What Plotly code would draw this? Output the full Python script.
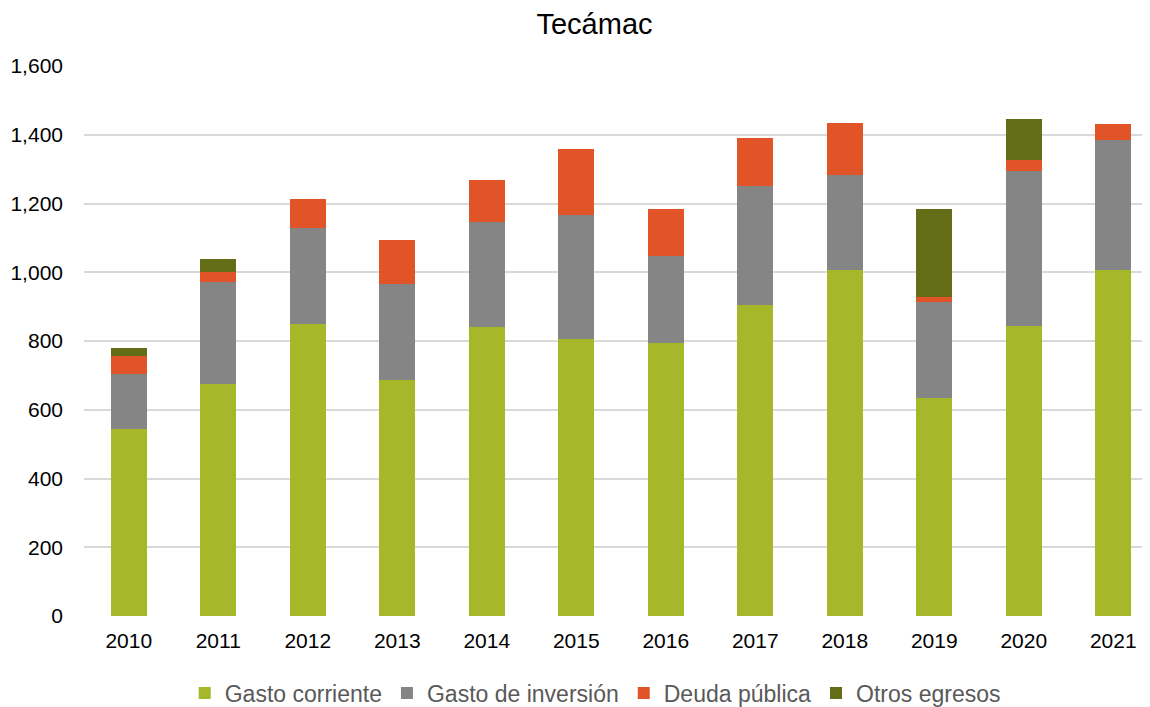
import plotly.graph_objects as go

years = ["2010", "2011", "2012", "2013", "2014", "2015", "2016", "2017", "2018", "2019", "2020", "2021"]
gasto_corriente = [544, 675, 849, 687, 842, 807, 793, 906, 1008, 633, 844, 1006]
gasto_inversion = [160, 297, 279, 278, 304, 359, 253, 344, 275, 280, 450, 378]
deuda_publica = [52, 28, 84, 130, 122, 192, 137, 140, 151, 14, 32, 46]
otros_egresos = [23, 40, 0, 0, 0, 0, 0, 0, 0, 256, 119, 0]
y_ticks = [0, 200, 400, 600, 800, 1000, 1200, 1400, 1600]

series = [
    ("Gasto corriente", gasto_corriente, "#A6B82A"),
    ("Gasto de inversión", gasto_inversion, "#858585"),
    ("Deuda pública", deuda_publica, "#E05427"),
    ("Otros egresos", otros_egresos, "#646E19"),
]

fig = go.Figure()
for name, vals, color in series:
    fig.add_trace(go.Bar(
        x=years, y=vals, name=name,
        marker=dict(color=color, line=dict(width=0)),
    ))

fig.update_layout(
    barmode="stack",
    bargap=0.6,
    width=1150, height=707,
    margin=dict(l=76, r=0, t=58, b=99),
    paper_bgcolor="white",
    plot_bgcolor="white",
    font=dict(family="Liberation Sans, Arial, sans-serif", size=21, color="#000000"),
    title=dict(text="Tecámac", x=0.51, xanchor="center", y=0.978, yanchor="middle",
               font=dict(size=29, color="#000000")),
    xaxis=dict(
        range=[-0.5, 11.5],
        showgrid=False, zeroline=False, showline=False,
        ticks="", ticklabelstandoff=10,
        tickfont=dict(size=21, color="#000000"),
    ),
    yaxis=dict(
        range=[0, 1600],
        tickvals=y_ticks,
        tickformat=",",
        showgrid=True, gridcolor="#D9D9D9", gridwidth=1.5,
        zeroline=False, showline=False,
        ticks="", ticklabelstandoff=20,
        tickfont=dict(size=21, color="#000000"),
    ),
    legend=dict(
        orientation="h", x=0.476, xanchor="center", y=-0.14, yanchor="middle",
        font=dict(size=23, color="#595959"),
        traceorder="normal",
        itemwidth=30,
    ),
)

fig.write_html("out.html")
